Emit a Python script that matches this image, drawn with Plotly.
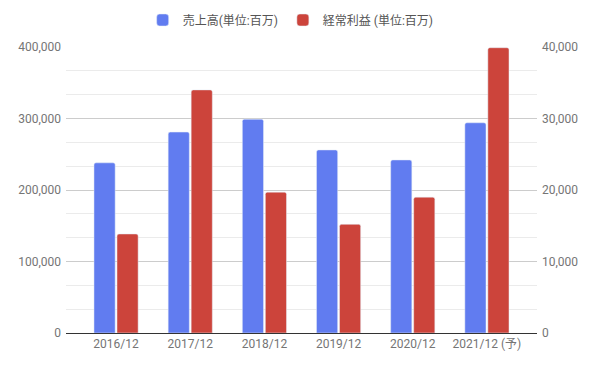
import plotly.graph_objects as go

categories = ["2016/12", "2017/12", "2018/12", "2019/12", "2020/12", "2021/12 (予)"]
sales = [238000, 281000, 299000, 256000, 242000, 294000]
ordinary_profit = [13850, 34000, 19700, 15200, 19000, 39900]
sales_name = "売上高(単位:百万)"
profit_name = "経常利益 (単位:百万)"

FONT = "Roboto, 'Noto Sans CJK JP', sans-serif"

fig = go.Figure()
fig.add_trace(go.Bar(x=categories, y=sales, name=sales_name, marker_color="#617CF0",
                     offsetgroup="a", yaxis="y"))
fig.add_trace(go.Bar(x=categories, y=ordinary_profit, name=profit_name, marker_color="#CC443B",
                     offsetgroup="b", yaxis="y2"))

fig.update_layout(
    width=596, height=369,
    margin=dict(l=58, r=67, t=39, b=44, autoexpand=False),
    paper_bgcolor="white", plot_bgcolor="white",
    font=dict(family=FONT, size=12, color="#757575"),
    barmode="group", bargap=0.38, bargroupgap=0.08,
    barcornerradius=2,
    showlegend=True,
    legend=dict(orientation="h", x=0.477, xanchor="center", yref="container", y=1 - 12/369,
                yanchor="middle", font=dict(size=12, color="#555555"),
                itemwidth=30, traceorder="normal"),
    xaxis=dict(type="category", range=[-0.675, 5.675], showgrid=False, ticks="",
               showline=False, zeroline=False, ticklabelstandoff=2,
               tickfont=dict(size=12, color="#757575")),
    yaxis=dict(range=[0, 400000], dtick=100000, tickformat=",d", showgrid=True,
               gridcolor="#cccccc", gridwidth=1, zeroline=True, zerolinecolor="#333333",
               zerolinewidth=1, showline=False, ticks="", ticklen=0, ticklabelstandoff=4,
               minor=dict(dtick=100000/3, showgrid=True, gridcolor="#ebebeb", gridwidth=1),
               tickfont=dict(size=12, color="#757575")),
    yaxis2=dict(range=[0, 40000], dtick=10000, tickformat=",d", overlaying="y", side="right",
                showgrid=False, zeroline=False, showline=False, ticks="", ticklabelstandoff=4,
                tickfont=dict(size=12, color="#757575")),
)

fig.write_html("out.html")
